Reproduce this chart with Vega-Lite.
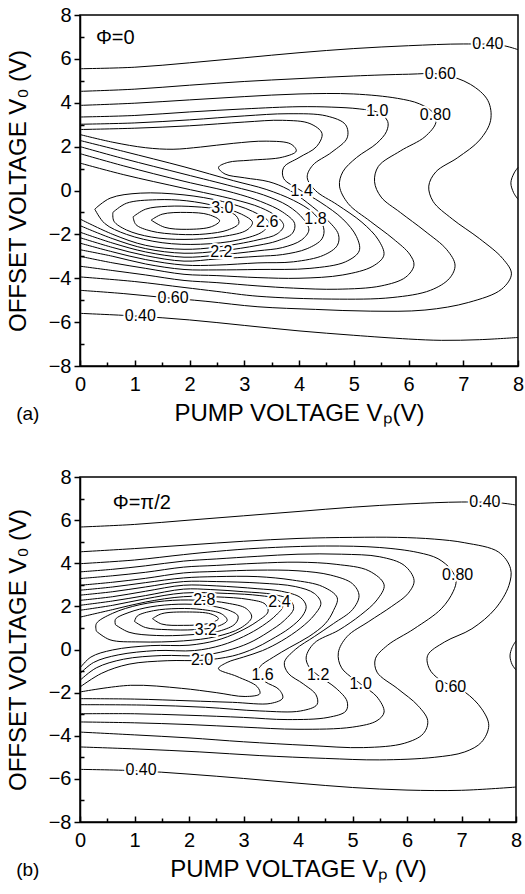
{
"$schema":"https://vega.github.io/schema/vega-lite/v6.json",
"padding":{"left":5,"top":4,"right":0,"bottom":5},
"background":"white",
"config":{"font":"Liberation Sans","view":{"stroke":"black","strokeWidth":1.5},
"axis":{"domainColor":"black","domainWidth":1.5,"tickColor":"black","tickWidth":1.5,"labelColor":"black","titleColor":"black","labelFont":"Liberation Sans","titleFont":"Liberation Sans","labelFontSize":20,"titleFontSize":24,"titleFontWeight":"normal","grid":false,"labelFlush":false,"labelOverlap":false},
"title":{"font":"Liberation Sans","fontWeight":"normal","fontSize":19,"color":"black"},
"text":{"font":"Liberation Sans"},
"line":{"interpolate":"catmull-rom"}},
"datasets":{
"a":[
{"c":"a04t","x":0,"y":5.55},{"c":"a04t","x":1,"y":5.62},{"c":"a04t","x":2,"y":5.82},{"c":"a04t","x":3,"y":6.05},{"c":"a04t","x":4,"y":6.28},{"c":"a04t","x":5,"y":6.47},{"c":"a04t","x":6,"y":6.6},{"c":"a04t","x":7,"y":6.68},{"c":"a04t","x":7.7,"y":6.62},{"c":"a04t","x":8,"y":6.42},
{"c":"a04b","x":0,"y":-5.6},{"c":"a04b","x":1,"y":-5.72},{"c":"a04b","x":2,"y":-5.9},{"c":"a04b","x":3,"y":-6.15},{"c":"a04b","x":4,"y":-6.4},{"c":"a04b","x":5,"y":-6.6},{"c":"a04b","x":6,"y":-6.77},{"c":"a04b","x":6.6,"y":-6.83},{"c":"a04b","x":7.3,"y":-6.8},{"c":"a04b","x":8,"y":-6.7},
{"c":"a04r","x":8,"y":1.05},{"c":"a04r","x":7.93,"y":0.8},{"c":"a04r","x":7.87,"y":0.35},{"c":"a04r","x":7.92,"y":-0.1},{"c":"a04r","x":8,"y":-0.4},
{"c":"a06","x":0,"y":4.52},{"c":"a06","x":1,"y":4.62},{"c":"a06","x":2,"y":4.8},{"c":"a06","x":3,"y":4.97},{"c":"a06","x":4,"y":5.1},{"c":"a06","x":5,"y":5.22},{"c":"a06","x":6,"y":5.3},{"c":"a06","x":6.6,"y":5.3},{"c":"a06","x":7.13,"y":4.84},{"c":"a06","x":7.45,"y":4.1},{"c":"a06","x":7.5,"y":3.2},{"c":"a06","x":7.3,"y":2.3},{"c":"a06","x":6.9,"y":1.5},{"c":"a06","x":6.5,"y":0.85},{"c":"a06","x":6.37,"y":0.2},{"c":"a06","x":6.45,"y":-0.5},{"c":"a06","x":6.8,"y":-1.3},{"c":"a06","x":7.3,"y":-2.2},{"c":"a06","x":7.72,"y":-3.1},{"c":"a06","x":7.88,"y":-3.8},{"c":"a06","x":7.7,"y":-4.5},{"c":"a06","x":7.1,"y":-5.1},{"c":"a06","x":6.3,"y":-5.45},{"c":"a06","x":5.3,"y":-5.5},{"c":"a06","x":4.3,"y":-5.42},{"c":"a06","x":3.25,"y":-5.3},{"c":"a06","x":2.3,"y":-5.05},{"c":"a06","x":1.5,"y":-4.87},{"c":"a06","x":0.8,"y":-4.7},{"c":"a06","x":0,"y":-4.55},
{"c":"a08","x":0,"y":3.88},{"c":"a08","x":1,"y":3.98},{"c":"a08","x":2,"y":4.13},{"c":"a08","x":3,"y":4.28},{"c":"a08","x":4,"y":4.4},{"c":"a08","x":5,"y":4.4},{"c":"a08","x":5.8,"y":4.2},{"c":"a08","x":6.2,"y":3.95},{"c":"a08","x":6.45,"y":3.55},{"c":"a08","x":6.5,"y":3.1},{"c":"a08","x":6.3,"y":2.45},{"c":"a08","x":5.85,"y":1.8},{"c":"a08","x":5.45,"y":1.1},{"c":"a08","x":5.38,"y":0.4},{"c":"a08","x":5.5,"y":-0.3},{"c":"a08","x":5.85,"y":-1.0},{"c":"a08","x":6.3,"y":-1.85},{"c":"a08","x":6.7,"y":-2.7},{"c":"a08","x":6.85,"y":-3.4},{"c":"a08","x":6.75,"y":-4.0},{"c":"a08","x":6.4,"y":-4.55},{"c":"a08","x":5.7,"y":-4.88},{"c":"a08","x":4.6,"y":-4.95},{"c":"a08","x":3.25,"y":-4.82},{"c":"a08","x":2.5,"y":-4.6},{"c":"a08","x":1.9,"y":-4.42},{"c":"a08","x":1,"y":-4.15},{"c":"a08","x":0,"y":-3.94},
{"c":"a10","x":0,"y":3.35},{"c":"a10","x":1,"y":3.42},{"c":"a10","x":2,"y":3.58},{"c":"a10","x":3,"y":3.72},{"c":"a10","x":4,"y":3.82},{"c":"a10","x":4.6,"y":3.8},{"c":"a10","x":5.1,"y":3.72},{"c":"a10","x":5.45,"y":3.55},{"c":"a10","x":5.62,"y":3.15},{"c":"a10","x":5.6,"y":2.7},{"c":"a10","x":5.42,"y":2.15},{"c":"a10","x":5.05,"y":1.5},{"c":"a10","x":4.8,"y":0.85},{"c":"a10","x":4.74,"y":0.2},{"c":"a10","x":4.9,"y":-0.6},{"c":"a10","x":5.3,"y":-1.4},{"c":"a10","x":5.72,"y":-2.2},{"c":"a10","x":6.02,"y":-2.9},{"c":"a10","x":6.1,"y":-3.4},{"c":"a10","x":5.95,"y":-3.95},{"c":"a10","x":5.5,"y":-4.35},{"c":"a10","x":4.7,"y":-4.5},{"c":"a10","x":3.9,"y":-4.45},{"c":"a10","x":3.25,"y":-4.35},{"c":"a10","x":2.5,"y":-4.2},{"c":"a10","x":1.9,"y":-4.1},{"c":"a10","x":1.2,"y":-3.85},{"c":"a10","x":0.6,"y":-3.65},{"c":"a10","x":0,"y":-3.45},
{"c":"a12","x":0,"y":3.02},{"c":"a12","x":1,"y":3.08},{"c":"a12","x":2,"y":3.22},{"c":"a12","x":3,"y":3.4},{"c":"a12","x":3.8,"y":3.5},{"c":"a12","x":4.5,"y":3.4},{"c":"a12","x":4.85,"y":3.0},{"c":"a12","x":4.88,"y":2.4},{"c":"a12","x":4.6,"y":1.75},{"c":"a12","x":4.25,"y":1.15},{"c":"a12","x":4.15,"y":0.6},{"c":"a12","x":4.3,"y":0.0},{"c":"a12","x":4.7,"y":-0.65},{"c":"a12","x":5.15,"y":-1.45},{"c":"a12","x":5.45,"y":-2.25},{"c":"a12","x":5.55,"y":-2.95},{"c":"a12","x":5.35,"y":-3.45},{"c":"a12","x":4.8,"y":-3.85},{"c":"a12","x":4.0,"y":-4.0},{"c":"a12","x":3.25,"y":-3.97},{"c":"a12","x":2.5,"y":-3.88},{"c":"a12","x":1.9,"y":-3.82},{"c":"a12","x":1.2,"y":-3.55},{"c":"a12","x":0.6,"y":-3.3},{"c":"a12","x":0,"y":-3.0},
{"c":"a14","x":0,"y":2.78},{"c":"a14","x":1,"y":2.84},{"c":"a14","x":2,"y":2.95},{"c":"a14","x":3,"y":3.12},{"c":"a14","x":3.7,"y":3.2},{"c":"a14","x":4.2,"y":3.05},{"c":"a14","x":4.42,"y":2.6},{"c":"a14","x":4.32,"y":2.0},{"c":"a14","x":4.0,"y":1.5},{"c":"a14","x":3.72,"y":1.05},{"c":"a14","x":3.72,"y":0.55},{"c":"a14","x":4.0,"y":0.05},{"c":"a14","x":4.4,"y":-0.55},{"c":"a14","x":4.8,"y":-1.3},{"c":"a14","x":5.05,"y":-2.1},{"c":"a14","x":5.1,"y":-2.75},{"c":"a14","x":4.85,"y":-3.25},{"c":"a14","x":4.2,"y":-3.55},{"c":"a14","x":3.25,"y":-3.6},{"c":"a14","x":2.5,"y":-3.62},{"c":"a14","x":1.9,"y":-3.6},{"c":"a14","x":1.2,"y":-3.35},{"c":"a14","x":0.6,"y":-3.0},{"c":"a14","x":0,"y":-2.7},
{"c":"a16","x":0,"y":2.55},{"c":"a16","x":0.6,"y":2.2},{"c":"a16","x":1.2,"y":1.95},{"c":"a16","x":1.7,"y":1.88},{"c":"a16","x":2.2,"y":1.98},{"c":"a16","x":2.8,"y":2.15},{"c":"a16","x":3.4,"y":2.25},{"c":"a16","x":3.85,"y":2.12},{"c":"a16","x":3.95,"y":1.8},{"c":"a16","x":3.7,"y":1.52},{"c":"a16","x":3.1,"y":1.38},{"c":"a16","x":2.7,"y":1.28},{"c":"a16","x":2.53,"y":1.05},{"c":"a16","x":2.65,"y":0.75},{"c":"a16","x":3.0,"y":0.58},{"c":"a16","x":3.45,"y":0.4},{"c":"a16","x":3.8,"y":0.05},{"c":"a16","x":4.15,"y":-0.55},{"c":"a16","x":4.5,"y":-1.3},{"c":"a16","x":4.72,"y":-2.0},{"c":"a16","x":4.7,"y":-2.5},{"c":"a16","x":4.45,"y":-2.95},{"c":"a16","x":3.9,"y":-3.25},{"c":"a16","x":3.25,"y":-3.3},{"c":"a16","x":2.5,"y":-3.4},{"c":"a16","x":1.9,"y":-3.4},{"c":"a16","x":1.2,"y":-3.15},{"c":"a16","x":0.6,"y":-2.8},{"c":"a16","x":0,"y":-2.4},
{"c":"a18","x":0,"y":2.28},{"c":"a18","x":0.8,"y":1.78},{"c":"a18","x":1.9,"y":1.08},{"c":"a18","x":2.8,"y":0.45},{"c":"a18","x":3.4,"y":0.05},{"c":"a18","x":3.9,"y":-0.45},{"c":"a18","x":4.25,"y":-1.0},{"c":"a18","x":4.45,"y":-1.7},{"c":"a18","x":4.42,"y":-2.2},{"c":"a18","x":4.15,"y":-2.65},{"c":"a18","x":3.7,"y":-2.92},{"c":"a18","x":3.25,"y":-3.0},{"c":"a18","x":2.5,"y":-3.12},{"c":"a18","x":1.9,"y":-3.22},{"c":"a18","x":1.2,"y":-2.97},{"c":"a18","x":0.6,"y":-2.6},{"c":"a18","x":0,"y":-2.15},
{"c":"a20","x":0,"y":2.0},{"c":"a20","x":0.8,"y":1.45},{"c":"a20","x":1.9,"y":0.75},{"c":"a20","x":2.8,"y":0.18},{"c":"a20","x":3.35,"y":-0.2},{"c":"a20","x":3.8,"y":-0.7},{"c":"a20","x":4.08,"y":-1.3},{"c":"a20","x":4.18,"y":-1.8},{"c":"a20","x":4.05,"y":-2.25},{"c":"a20","x":3.7,"y":-2.6},{"c":"a20","x":3.25,"y":-2.75},{"c":"a20","x":2.5,"y":-2.95},{"c":"a20","x":1.9,"y":-3.04},{"c":"a20","x":1.2,"y":-2.8},{"c":"a20","x":0.6,"y":-2.4},{"c":"a20","x":0,"y":-1.9},
{"c":"a22","x":0,"y":1.68},{"c":"a22","x":0.8,"y":1.12},{"c":"a22","x":1.9,"y":0.42},{"c":"a22","x":2.8,"y":-0.1},{"c":"a22","x":3.3,"y":-0.5},{"c":"a22","x":3.7,"y":-0.98},{"c":"a22","x":3.92,"y":-1.5},{"c":"a22","x":3.88,"y":-1.95},{"c":"a22","x":3.6,"y":-2.3},{"c":"a22","x":3.25,"y":-2.5},{"c":"a22","x":2.58,"y":-2.75},{"c":"a22","x":1.9,"y":-2.86},{"c":"a22","x":1.2,"y":-2.65},{"c":"a22","x":0.6,"y":-2.2},{"c":"a22","x":0,"y":-1.6},
{"c":"a24","x":0,"y":1.25},{"c":"a24","x":0.8,"y":0.72},{"c":"a24","x":1.9,"y":0.1},{"c":"a24","x":2.8,"y":-0.4},{"c":"a24","x":3.3,"y":-0.78},{"c":"a24","x":3.6,"y":-1.2},{"c":"a24","x":3.72,"y":-1.6},{"c":"a24","x":3.6,"y":-1.98},{"c":"a24","x":3.25,"y":-2.25},{"c":"a24","x":2.5,"y":-2.58},{"c":"a24","x":1.9,"y":-2.68},{"c":"a24","x":1.2,"y":-2.5},{"c":"a24","x":0.6,"y":-2.0},{"c":"a24","x":0,"y":-1.3},
{"c":"a26","x":0.27,"y":-0.85},{"c":"a26","x":0.55,"y":-0.35},{"c":"a26","x":1.1,"y":-0.12},{"c":"a26","x":1.9,"y":-0.2},{"c":"a26","x":2.6,"y":-0.5},{"c":"a26","x":3.15,"y":-0.95},{"c":"a26","x":3.45,"y":-1.45},{"c":"a26","x":3.35,"y":-1.85},{"c":"a26","x":2.9,"y":-2.25},{"c":"a26","x":2.2,"y":-2.45},{"c":"a26","x":1.5,"y":-2.38},{"c":"a26","x":0.85,"y":-2.0},{"c":"a26","x":0.45,"y":-1.5},{"c":"a26","x":0.27,"y":-0.85},
{"c":"a28","x":0.6,"y":-1.0},{"c":"a28","x":0.85,"y":-0.58},{"c":"a28","x":1.4,"y":-0.42},{"c":"a28","x":1.95,"y":-0.47},{"c":"a28","x":2.5,"y":-0.72},{"c":"a28","x":2.95,"y":-1.08},{"c":"a28","x":3.15,"y":-1.45},{"c":"a28","x":3.05,"y":-1.8},{"c":"a28","x":2.6,"y":-2.1},{"c":"a28","x":1.9,"y":-2.23},{"c":"a28","x":1.3,"y":-2.12},{"c":"a28","x":0.85,"y":-1.8},{"c":"a28","x":0.62,"y":-1.4},{"c":"a28","x":0.6,"y":-1.0},
{"c":"a30","x":0.97,"y":-1.2},{"c":"a30","x":1.2,"y":-0.85},{"c":"a30","x":1.6,"y":-0.72},{"c":"a30","x":2.1,"y":-0.74},{"c":"a30","x":2.58,"y":-0.88},{"c":"a30","x":2.85,"y":-1.15},{"c":"a30","x":2.9,"y":-1.5},{"c":"a30","x":2.7,"y":-1.8},{"c":"a30","x":2.3,"y":-1.98},{"c":"a30","x":1.8,"y":-2.0},{"c":"a30","x":1.3,"y":-1.85},{"c":"a30","x":1.02,"y":-1.55},{"c":"a30","x":0.97,"y":-1.2},
{"c":"a32","x":1.3,"y":-1.35},{"c":"a32","x":1.5,"y":-1.08},{"c":"a32","x":1.95,"y":-1.0},{"c":"a32","x":2.35,"y":-1.1},{"c":"a32","x":2.55,"y":-1.38},{"c":"a32","x":2.4,"y":-1.65},{"c":"a32","x":1.95,"y":-1.77},{"c":"a32","x":1.55,"y":-1.68},{"c":"a32","x":1.3,"y":-1.35}
],
"al":[
{"t":"0.40","x":7.45,"y":6.68},{"t":"0.60","x":6.58,"y":5.32},{"t":"1.0","x":5.43,"y":3.62},{"t":"0.80","x":6.49,"y":3.42},{"t":"1.4","x":4.05,"y":-0.02},{"t":"1.8","x":4.3,"y":-1.32},{"t":"3.0","x":2.6,"y":-0.8},{"t":"2.6","x":3.42,"y":-1.42},{"t":"2.2","x":2.58,"y":-2.8},{"t":"0.60","x":1.7,"y":-4.9},{"t":"0.40","x":1.1,"y":-5.72}
],
"ap":[{"t":"Φ=0","x":0.29,"y":6.95}],
"b":[
{"c":"b04t","x":0,"y":5.68},{"c":"b04t","x":1,"y":5.8},{"c":"b04t","x":2,"y":6.0},{"c":"b04t","x":3,"y":6.2},{"c":"b04t","x":4,"y":6.4},{"c":"b04t","x":5,"y":6.6},{"c":"b04t","x":6,"y":6.75},{"c":"b04t","x":7,"y":6.84},{"c":"b04t","x":7.7,"y":6.8},{"c":"b04t","x":8,"y":6.7},
{"c":"b04b","x":0,"y":-5.56},{"c":"b04b","x":1,"y":-5.62},{"c":"b04b","x":2,"y":-5.78},{"c":"b04b","x":3,"y":-5.98},{"c":"b04b","x":4,"y":-6.2},{"c":"b04b","x":5,"y":-6.4},{"c":"b04b","x":6,"y":-6.52},{"c":"b04b","x":7,"y":-6.53},{"c":"b04b","x":8,"y":-6.38},
{"c":"b04r","x":8,"y":0.4},{"c":"b04r","x":7.93,"y":0.1},{"c":"b04r","x":7.89,"y":-0.3},{"c":"b04r","x":7.93,"y":-0.7},{"c":"b04r","x":8,"y":-0.95},
{"c":"b06","x":0,"y":4.53},{"c":"b06","x":1,"y":4.68},{"c":"b06","x":2,"y":4.85},{"c":"b06","x":3,"y":5.02},{"c":"b06","x":4,"y":5.15},{"c":"b06","x":5,"y":5.2},{"c":"b06","x":5.83,"y":5.2},{"c":"b06","x":6.5,"y":5.12},{"c":"b06","x":7.06,"y":4.95},{"c":"b06","x":7.68,"y":4.52},{"c":"b06","x":7.9,"y":3.75},{"c":"b06","x":7.87,"y":2.97},{"c":"b06","x":7.62,"y":1.89},{"c":"b06","x":7.19,"y":0.96},{"c":"b06","x":6.69,"y":0.35},{"c":"b06","x":6.38,"y":-0.27},{"c":"b06","x":6.41,"y":-0.89},{"c":"b06","x":6.6,"y":-1.4},{"c":"b06","x":7.06,"y":-1.97},{"c":"b06","x":7.37,"y":-2.75},{"c":"b06","x":7.5,"y":-3.52},{"c":"b06","x":7.37,"y":-4.29},{"c":"b06","x":7.06,"y":-4.75},{"c":"b06","x":6.5,"y":-5.0},{"c":"b06","x":5.5,"y":-5.12},{"c":"b06","x":4.5,"y":-5.05},{"c":"b06","x":3.3,"y":-4.92},{"c":"b06","x":2.2,"y":-4.75},{"c":"b06","x":1.1,"y":-4.62},{"c":"b06","x":0,"y":-4.52},
{"c":"b08","x":0,"y":3.98},{"c":"b08","x":1,"y":4.15},{"c":"b08","x":1.9,"y":4.4},{"c":"b08","x":2.5,"y":4.55},{"c":"b08","x":3.3,"y":4.7},{"c":"b08","x":4.5,"y":4.8},{"c":"b08","x":5.5,"y":4.73},{"c":"b08","x":6.2,"y":4.5},{"c":"b08","x":6.57,"y":4.21},{"c":"b08","x":6.81,"y":3.7},{"c":"b08","x":6.9,"y":3.2},{"c":"b08","x":6.85,"y":2.7},{"c":"b08","x":6.63,"y":1.89},{"c":"b08","x":6.13,"y":0.96},{"c":"b08","x":5.64,"y":0.19},{"c":"b08","x":5.42,"y":-0.43},{"c":"b08","x":5.45,"y":-1.05},{"c":"b08","x":5.83,"y":-1.82},{"c":"b08","x":6.2,"y":-2.6},{"c":"b08","x":6.38,"y":-3.3},{"c":"b08","x":6.3,"y":-3.9},{"c":"b08","x":5.95,"y":-4.35},{"c":"b08","x":5.2,"y":-4.55},{"c":"b08","x":4.2,"y":-4.45},{"c":"b08","x":3,"y":-4.28},{"c":"b08","x":2,"y":-4.1},{"c":"b08","x":1,"y":-3.96},{"c":"b08","x":0,"y":-3.83},
{"c":"b10","x":0,"y":3.6},{"c":"b10","x":0.6,"y":3.72},{"c":"b10","x":1.2,"y":3.88},{"c":"b10","x":1.9,"y":4.1},{"c":"b10","x":2.5,"y":4.2},{"c":"b10","x":3.25,"y":4.32},{"c":"b10","x":4.0,"y":4.42},{"c":"b10","x":4.8,"y":4.42},{"c":"b10","x":5.5,"y":4.3},{"c":"b10","x":5.95,"y":3.9},{"c":"b10","x":6.13,"y":3.2},{"c":"b10","x":6.02,"y":2.6},{"c":"b10","x":5.72,"y":2.0},{"c":"b10","x":5.3,"y":1.3},{"c":"b10","x":4.9,"y":0.6},{"c":"b10","x":4.74,"y":-0.15},{"c":"b10","x":4.8,"y":-0.85},{"c":"b10","x":5.15,"y":-1.6},{"c":"b10","x":5.45,"y":-2.2},{"c":"b10","x":5.58,"y":-2.9},{"c":"b10","x":5.45,"y":-3.3},{"c":"b10","x":5.0,"y":-3.6},{"c":"b10","x":4.0,"y":-3.7},{"c":"b10","x":3.0,"y":-3.6},{"c":"b10","x":2.0,"y":-3.48},{"c":"b10","x":1.0,"y":-3.4},{"c":"b10","x":0,"y":-3.36},
{"c":"b12","x":0,"y":3.29},{"c":"b12","x":0.6,"y":3.42},{"c":"b12","x":1.2,"y":3.58},{"c":"b12","x":1.9,"y":3.82},{"c":"b12","x":2.5,"y":3.9},{"c":"b12","x":3.25,"y":4.0},{"c":"b12","x":4.0,"y":4.05},{"c":"b12","x":4.7,"y":3.95},{"c":"b12","x":5.3,"y":3.65},{"c":"b12","x":5.58,"y":3.0},{"c":"b12","x":5.45,"y":2.3},{"c":"b12","x":5.15,"y":1.6},{"c":"b12","x":4.75,"y":0.9},{"c":"b12","x":4.3,"y":0.3},{"c":"b12","x":4.15,"y":-0.35},{"c":"b12","x":4.2,"y":-0.8},{"c":"b12","x":4.37,"y":-1.2},{"c":"b12","x":4.7,"y":-1.8},{"c":"b12","x":4.9,"y":-2.4},{"c":"b12","x":4.88,"y":-2.85},{"c":"b12","x":4.55,"y":-3.15},{"c":"b12","x":3.8,"y":-3.25},{"c":"b12","x":3.0,"y":-3.15},{"c":"b12","x":2.0,"y":-3.05},{"c":"b12","x":1.0,"y":-2.98},{"c":"b12","x":0,"y":-2.98},
{"c":"b14","x":0,"y":2.98},{"c":"b14","x":0.6,"y":3.12},{"c":"b14","x":1.2,"y":3.3},{"c":"b14","x":1.9,"y":3.55},{"c":"b14","x":2.5,"y":3.62},{"c":"b14","x":3.25,"y":3.68},{"c":"b14","x":4.0,"y":3.65},{"c":"b14","x":4.6,"y":3.45},{"c":"b14","x":5.0,"y":3.05},{"c":"b14","x":5.12,"y":2.5},{"c":"b14","x":5.0,"y":1.85},{"c":"b14","x":4.65,"y":1.2},{"c":"b14","x":4.3,"y":0.6},{"c":"b14","x":3.95,"y":0.0},{"c":"b14","x":3.75,"y":-0.6},{"c":"b14","x":3.82,"y":-1.1},{"c":"b14","x":4.1,"y":-1.6},{"c":"b14","x":4.33,"y":-2.1},{"c":"b14","x":4.35,"y":-2.55},{"c":"b14","x":4.05,"y":-2.85},{"c":"b14","x":3.3,"y":-2.85},{"c":"b14","x":2.3,"y":-2.68},{"c":"b14","x":1.2,"y":-2.58},{"c":"b14","x":0,"y":-2.56},
{"c":"b16","x":0,"y":2.75},{"c":"b16","x":0.6,"y":2.9},{"c":"b16","x":1.2,"y":3.1},{"c":"b16","x":1.9,"y":3.32},{"c":"b16","x":2.5,"y":3.38},{"c":"b16","x":3.25,"y":3.38},{"c":"b16","x":3.9,"y":3.22},{"c":"b16","x":4.45,"y":2.92},{"c":"b16","x":4.72,"y":2.4},{"c":"b16","x":4.65,"y":1.8},{"c":"b16","x":4.5,"y":1.2},{"c":"b16","x":4.2,"y":0.6},{"c":"b16","x":3.85,"y":0.1},{"c":"b16","x":3.55,"y":-0.35},{"c":"b16","x":3.3,"y":-0.8},{"c":"b16","x":3.25,"y":-1.15},{"c":"b16","x":3.4,"y":-1.5},{"c":"b16","x":3.65,"y":-1.85},{"c":"b16","x":3.72,"y":-2.25},{"c":"b16","x":3.5,"y":-2.5},{"c":"b16","x":2.8,"y":-2.45},{"c":"b16","x":2.0,"y":-2.38},{"c":"b16","x":1.0,"y":-2.3},{"c":"b16","x":0,"y":-2.28},
{"c":"b18","x":0,"y":-1.97},{"c":"b18","x":0.93,"y":-1.66},{"c":"b18","x":1.86,"y":-1.8},{"c":"b18","x":2.5,"y":-2.0},{"c":"b18","x":3.03,"y":-2.18},{"c":"b18","x":3.3,"y":-2.05},{"c":"b18","x":3.25,"y":-1.72},{"c":"b18","x":2.88,"y":-1.25},{"c":"b18","x":2.54,"y":-0.89},{"c":"b18","x":2.7,"y":-0.6},{"c":"b18","x":3.0,"y":-0.35},{"c":"b18","x":3.35,"y":-0.05},{"c":"b18","x":3.7,"y":0.4},{"c":"b18","x":4.05,"y":1.0},{"c":"b18","x":4.3,"y":1.6},{"c":"b18","x":4.42,"y":2.15},{"c":"b18","x":4.3,"y":2.6},{"c":"b18","x":3.95,"y":2.92},{"c":"b18","x":3.3,"y":3.08},{"c":"b18","x":2.5,"y":3.15},{"c":"b18","x":1.9,"y":3.15},{"c":"b18","x":1.2,"y":2.9},{"c":"b18","x":0.6,"y":2.68},{"c":"b18","x":0,"y":2.52},
{"c":"b20","x":0,"y":-1.74},{"c":"b20","x":0.4,"y":-1.1},{"c":"b20","x":0.9,"y":-0.68},{"c":"b20","x":1.6,"y":-0.52},{"c":"b20","x":2.24,"y":-0.5},{"c":"b20","x":2.8,"y":-0.3},{"c":"b20","x":3.2,"y":0.05},{"c":"b20","x":3.5,"y":0.45},{"c":"b20","x":3.85,"y":1.0},{"c":"b20","x":4.08,"y":1.55},{"c":"b20","x":4.15,"y":2.0},{"c":"b20","x":4.05,"y":2.4},{"c":"b20","x":3.7,"y":2.7},{"c":"b20","x":3.25,"y":2.82},{"c":"b20","x":2.5,"y":2.95},{"c":"b20","x":1.9,"y":2.98},{"c":"b20","x":1.2,"y":2.7},{"c":"b20","x":0.6,"y":2.45},{"c":"b20","x":0,"y":2.28},
{"c":"b22","x":0,"y":-1.43},{"c":"b22","x":0.3,"y":-0.85},{"c":"b22","x":0.8,"y":-0.45},{"c":"b22","x":1.5,"y":-0.28},{"c":"b22","x":2.2,"y":-0.28},{"c":"b22","x":2.7,"y":-0.05},{"c":"b22","x":3.1,"y":0.3},{"c":"b22","x":3.45,"y":0.8},{"c":"b22","x":3.75,"y":1.35},{"c":"b22","x":3.92,"y":1.9},{"c":"b22","x":3.85,"y":2.3},{"c":"b22","x":3.55,"y":2.55},{"c":"b22","x":3.0,"y":2.68},{"c":"b22","x":2.4,"y":2.78},{"c":"b22","x":1.9,"y":2.8},{"c":"b22","x":1.2,"y":2.5},{"c":"b22","x":0.6,"y":2.25},{"c":"b22","x":0,"y":2.05},
{"c":"b24","x":0,"y":-1.12},{"c":"b24","x":0.25,"y":-0.6},{"c":"b24","x":0.7,"y":-0.25},{"c":"b24","x":1.4,"y":-0.05},{"c":"b24","x":2.1,"y":-0.05},{"c":"b24","x":2.6,"y":0.2},{"c":"b24","x":3.0,"y":0.6},{"c":"b24","x":3.35,"y":1.1},{"c":"b24","x":3.6,"y":1.6},{"c":"b24","x":3.72,"y":2.0},{"c":"b24","x":3.6,"y":2.35},{"c":"b24","x":3.3,"y":2.5},{"c":"b24","x":2.7,"y":2.6},{"c":"b24","x":1.9,"y":2.62},{"c":"b24","x":1.2,"y":2.35},{"c":"b24","x":0.6,"y":2.05},{"c":"b24","x":0,"y":1.82},
{"c":"b26","x":0,"y":-0.86},{"c":"b26","x":0.2,"y":-0.35},{"c":"b26","x":0.6,"y":-0.02},{"c":"b26","x":1.3,"y":0.18},{"c":"b26","x":2.0,"y":0.2},{"c":"b26","x":2.5,"y":0.42},{"c":"b26","x":2.9,"y":0.8},{"c":"b26","x":3.25,"y":1.3},{"c":"b26","x":3.45,"y":1.75},{"c":"b26","x":3.4,"y":2.1},{"c":"b26","x":3.1,"y":2.32},{"c":"b26","x":2.5,"y":2.44},{"c":"b26","x":1.9,"y":2.45},{"c":"b26","x":1.2,"y":2.2},{"c":"b26","x":0.6,"y":1.85},{"c":"b26","x":0,"y":1.5},
{"c":"b28","x":0.3,"y":0.85},{"c":"b28","x":0.55,"y":0.45},{"c":"b28","x":1.1,"y":0.35},{"c":"b28","x":1.9,"y":0.4},{"c":"b28","x":2.5,"y":0.6},{"c":"b28","x":2.95,"y":1.0},{"c":"b28","x":3.15,"y":1.5},{"c":"b28","x":3.05,"y":1.9},{"c":"b28","x":2.7,"y":2.15},{"c":"b28","x":2.28,"y":2.27},{"c":"b28","x":1.7,"y":2.28},{"c":"b28","x":1.1,"y":2.08},{"c":"b28","x":0.6,"y":1.68},{"c":"b28","x":0.3,"y":1.2},{"c":"b28","x":0.3,"y":0.85},
{"c":"b30","x":0.65,"y":1.15},{"c":"b30","x":0.9,"y":0.8},{"c":"b30","x":1.4,"y":0.65},{"c":"b30","x":2.0,"y":0.68},{"c":"b30","x":2.55,"y":0.85},{"c":"b30","x":2.85,"y":1.2},{"c":"b30","x":2.9,"y":1.55},{"c":"b30","x":2.7,"y":1.85},{"c":"b30","x":2.3,"y":2.05},{"c":"b30","x":1.8,"y":2.1},{"c":"b30","x":1.3,"y":1.98},{"c":"b30","x":0.9,"y":1.72},{"c":"b30","x":0.65,"y":1.4},{"c":"b30","x":0.65,"y":1.15},
{"c":"b32","x":1.0,"y":1.3},{"c":"b32","x":1.2,"y":1.02},{"c":"b32","x":1.6,"y":0.92},{"c":"b32","x":2.1,"y":0.92},{"c":"b32","x":2.5,"y":1.05},{"c":"b32","x":2.7,"y":1.35},{"c":"b32","x":2.6,"y":1.65},{"c":"b32","x":2.25,"y":1.85},{"c":"b32","x":1.8,"y":1.9},{"c":"b32","x":1.35,"y":1.8},{"c":"b32","x":1.05,"y":1.55},{"c":"b32","x":1.0,"y":1.3},
{"c":"b34","x":1.33,"y":1.43},{"c":"b34","x":1.5,"y":1.18},{"c":"b34","x":1.9,"y":1.12},{"c":"b34","x":2.35,"y":1.2},{"c":"b34","x":2.54,"y":1.43},{"c":"b34","x":2.4,"y":1.65},{"c":"b34","x":1.95,"y":1.74},{"c":"b34","x":1.5,"y":1.66},{"c":"b34","x":1.33,"y":1.43}
],
"bl":[
{"t":"0.40","x":7.43,"y":6.86},{"t":"0.80","x":6.93,"y":3.44},{"t":"2.4","x":3.66,"y":2.2},{"t":"2.8","x":2.28,"y":2.28},{"t":"3.2","x":2.31,"y":0.89},{"t":"2.0","x":2.24,"y":-0.5},{"t":"1.6","x":3.35,"y":-1.2},{"t":"1.2","x":4.37,"y":-1.2},{"t":"1.0","x":5.15,"y":-1.6},{"t":"0.60","x":6.8,"y":-1.74},{"t":"0.40","x":1.12,"y":-5.6}
],
"bp":[{"t":"Φ=π/2","x":0.6,"y":6.8}]
},
"vconcat":[
{"width":438,"height":351,
"title":{"text":"(a)","orient":"bottom","anchor":"start","offset":-20,"dx":10},
"resolve":{"axis":{"x":"independent","y":"independent"}},
"layer":[
{"data":{"name":"a"},"mark":{"type":"line","color":"black","strokeWidth":1},
"encoding":{"x":{"field":"x","type":"quantitative","scale":{"domain":[0,8],"nice":false},"axis":{"values":[0,1,2,3,4,5,6,7,8],"title":"PUMP VOLTAGE Vₚ(V)","tickSize":-6,"labelPadding":14,"titlePadding":7}},
"y":{"field":"y","type":"quantitative","scale":{"domain":[-8,8],"nice":false},"axis":{"values":[-8,-6,-4,-2,0,2,4,6,8],"title":"OFFSET VOLTAGE V₀ (V)","tickSize":6,"labelPadding":3,"titlePadding":18}},
"detail":{"field":"c"},"order":{"value":null}}},
{"data":{"name":"al"},"mark":{"type":"point","opacity":0},
"encoding":{"x":{"field":"x","type":"quantitative","axis":{"orient":"top","offset":-351,"values":[0.5,1.5,2.5,3.5,4.5,5.5,6.5,7.5],"labels":false,"domain":false,"tickSize":4,"title":null}},
"y":{"field":"y","type":"quantitative","axis":{"orient":"right","offset":-438,"values":[-7,-5,-3,-1,1,3,5,7],"labels":false,"domain":false,"tickSize":4,"title":null}}}},
{"data":{"name":"al"},"mark":{"type":"text","color":"white","stroke":"white","strokeWidth":4,"fontSize":16},
"encoding":{"x":{"field":"x","type":"quantitative","axis":null},"y":{"field":"y","type":"quantitative","axis":null},"text":{"field":"t"}}},
{"data":{"name":"al"},"mark":{"type":"text","color":"black","fontSize":16},
"encoding":{"x":{"field":"x","type":"quantitative","axis":null},"y":{"field":"y","type":"quantitative","axis":null},"text":{"field":"t"}}},
{"data":{"name":"ap"},"mark":{"type":"text","color":"black","fontSize":20,"align":"left"},
"encoding":{"x":{"field":"x","type":"quantitative","axis":null},"y":{"field":"y","type":"quantitative","axis":null},"text":{"field":"t"}}}
]},
{"width":436,"height":345,
"title":{"text":"(b)","orient":"bottom","anchor":"start","offset":-20,"dx":10},
"resolve":{"axis":{"x":"independent","y":"independent"}},
"layer":[
{"data":{"name":"b"},"mark":{"type":"line","color":"black","strokeWidth":1},
"encoding":{"x":{"field":"x","type":"quantitative","scale":{"domain":[0,8],"nice":false},"axis":{"values":[0,1,2,3,4,5,6,7,8],"title":"PUMP VOLTAGE Vₚ (V)","tickSize":-6,"labelPadding":14,"titlePadding":7}},
"y":{"field":"y","type":"quantitative","scale":{"domain":[-8,8],"nice":false},"axis":{"values":[-8,-6,-4,-2,0,2,4,6,8],"title":"OFFSET VOLTAGE V₀ (V)","tickSize":6,"labelPadding":3,"titlePadding":18}},
"detail":{"field":"c"},"order":{"value":null}}},
{"data":{"name":"bl"},"mark":{"type":"point","opacity":0},
"encoding":{"x":{"field":"x","type":"quantitative","axis":{"orient":"top","offset":-345,"values":[0.5,1.5,2.5,3.5,4.5,5.5,6.5,7.5],"labels":false,"domain":false,"tickSize":4,"title":null}},
"y":{"field":"y","type":"quantitative","axis":{"orient":"right","offset":-436,"values":[-7,-5,-3,-1,1,3,5,7],"labels":false,"domain":false,"tickSize":4,"title":null}}}},
{"data":{"name":"bl"},"mark":{"type":"text","color":"white","stroke":"white","strokeWidth":4,"fontSize":16},
"encoding":{"x":{"field":"x","type":"quantitative","axis":null},"y":{"field":"y","type":"quantitative","axis":null},"text":{"field":"t"}}},
{"data":{"name":"bl"},"mark":{"type":"text","color":"black","fontSize":16},
"encoding":{"x":{"field":"x","type":"quantitative","axis":null},"y":{"field":"y","type":"quantitative","axis":null},"text":{"field":"t"}}},
{"data":{"name":"bp"},"mark":{"type":"text","color":"black","fontSize":20,"align":"left"},
"encoding":{"x":{"field":"x","type":"quantitative","axis":null},"y":{"field":"y","type":"quantitative","axis":null},"text":{"field":"t"}}}
]}
],
"spacing":40
}
